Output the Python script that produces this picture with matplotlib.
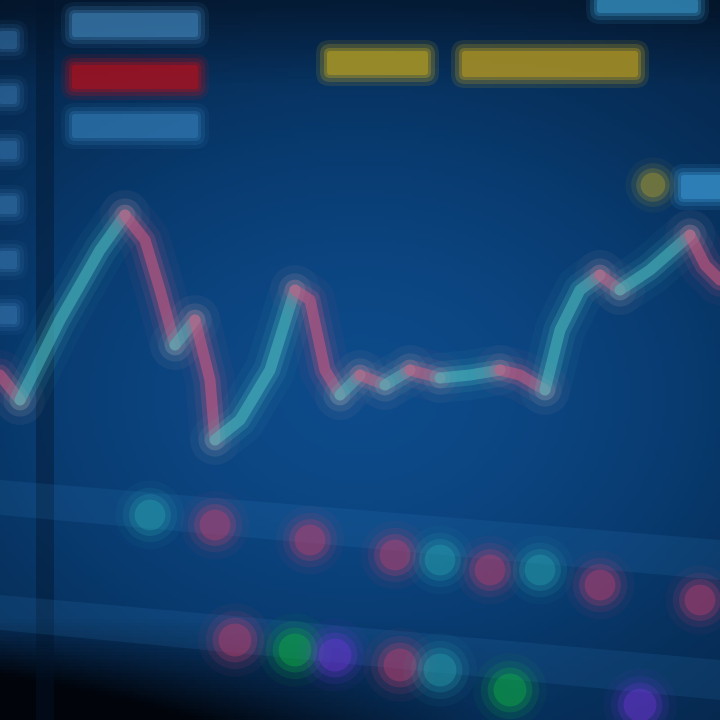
"""Blurred trading-screen style price chart"""

import numpy as np
import matplotlib.pyplot as plt
from matplotlib.patches import FancyBboxPatch
from matplotlib.colors import LinearSegmentedColormap

# Price line (day, price)
days = [0, 2, 6, 10, 12.5, 14.5, 16, 17.5, 19.5, 21, 21.5, 24, 27, 29.5, 31,
        32.5, 34, 36, 38.5, 41, 44, 47, 50, 52, 54.5, 56, 58, 60, 62, 65, 69,
        70.5, 72]
prices = [84.5, 82, 90, 97, 100.5, 98, 93, 87.5, 90, 84, 78, 80, 85, 93, 92,
          85, 82.5, 84.5, 83.5, 85, 84.2, 84.5, 85, 84.5, 83, 89, 93, 94.5, 93,
          95, 98.5, 95.5, 94]

# Volume / signal markers, first row
sig1_days = [15, 21.5, 31, 39.5, 44, 49, 54, 60, 70]
sig1_level = [70.5, 69.5, 68, 66.5, 66, 65, 65, 63.5, 62]
sig1_kind = ["teal", "red", "red", "red", "teal", "red", "teal", "red", "red"]

# Second row
sig2_days = [23.5, 29.5, 33.5, 40, 44, 51, 64]
sig2_level = [58, 57, 56.5, 55.5, 55, 53, 51.5]
sig2_kind = ["red", "green", "purple", "red", "teal", "green", "purple"]

kind_colors = {"teal": "#2aa5b0", "red": "#c8406e", "green": "#10b840",
               "purple": "#7436dc"}


def glow_line(ax, x, y, color):
    for w, a in zip((36, 24, 15, 8), (0.05, 0.1, 0.22, 0.5)):
        ax.plot(x, y, color=color, lw=w, alpha=a, solid_capstyle="round",
                solid_joinstyle="round", zorder=3)


def glow_blob(ax, x, y, color, size=900):
    for s, a in zip((size * 3.5, size * 2.2, size * 1.3, size * 0.7),
                    (0.06, 0.12, 0.22, 0.35)):
        ax.scatter(x, y, s=s, color=color, alpha=a, edgecolors="none", zorder=3)


def soft_box(ax, x0, y0, w, h, color, alpha):
    for pad, a in zip((1.4, 1.0, 0.6, 0.3), (0.12, 0.2, 0.3, 0.45)):
        ax.add_patch(FancyBboxPatch((x0, y0), w, h,
                                    boxstyle="round,pad=%.2f" % pad,
                                    color=color, alpha=a * alpha, lw=0, zorder=2))


fig = plt.figure(figsize=(7.2, 7.2), dpi=100)
ax = fig.add_axes([0, 0, 1, 1])
ax.set_xlim(0, 72)
ax.set_ylim(50, 122)
ax.axis("off")

# Background: navy, lighter blue in the middle, near black bottom-left corner
yy, xx = np.mgrid[0:1:200j, 0:1:200j]
bright = 0.35 + 0.6 * np.exp(-((xx - 0.5) ** 2 / 0.35 + (yy - 0.55) ** 2 / 0.2))
bright -= 0.85 * np.clip((yy - 0.86) * 7, 0, 1) * np.clip(1 - xx * 1.4, 0, 1)
bright -= 0.2 * np.clip((0.12 - yy) * 9, 0, 1)
bg_cmap = LinearSegmentedColormap.from_list(
    "bg", ["#01040a", "#05203f", "#083a6e", "#0e4d8e"])
ax.imshow(np.clip(bright, 0, 1), cmap=bg_cmap, extent=(0, 72, 50, 122),
          origin="upper", aspect="auto", zorder=0, vmin=0, vmax=1)

# Left dark axis strip and lighter x-axis bands
ax.axvspan(3.6, 5.4, color="#03142a", alpha=0.4, zorder=1, lw=0)
ax.fill_between([0, 72], [74, 68], [70.5, 64], color="#3386c8", alpha=0.14,
                zorder=1, lw=0)
ax.fill_between([0, 72], [62.5, 56], [59, 52], color="#3386c8", alpha=0.14,
                zorder=1, lw=0)

# Left axis tick blobs
for lvl in (118, 112.5, 107, 101.5, 96, 90.5):
    soft_box(ax, 0.2, lvl - 0.6, 1.2, 1.2, "#3d7fb8", 0.7)

# Legend-like blobs top left
soft_box(ax, 7.5, 118.6, 12, 1.8, "#4a96d0", 0.8)
soft_box(ax, 7.5, 113.4, 12, 1.8, "#b0101c", 1.2)
soft_box(ax, 7.5, 108.5, 12, 1.8, "#3a88c4", 0.8)

# Title-like blobs in yellow
soft_box(ax, 33, 114.8, 9.5, 1.8, "#b8a020", 1.2)
soft_box(ax, 46.5, 114.6, 17, 2.0, "#b89a20", 1.2)
soft_box(ax, 60, 121, 9.5, 0.8, "#3fa6dd", 0.9)
glow_blob(ax, 65.3, 103.5, "#b8a428", size=450)
soft_box(ax, 68.4, 102.4, 4.5, 1.8, "#3c9cd8", 1.0)

# Price line: split into rising / falling runs, each drawn with a glow
start = 0
for i in range(1, len(days)):
    last = i == len(days) - 1
    up = prices[i] >= prices[i - 1]
    if not last:
        nxt_up = prices[i + 1] >= prices[i]
    if last or nxt_up != up:
        col = "#4fbfc0" if up else "#d85a80"
        glow_line(ax, days[start:i + 1], prices[start:i + 1], col)
        start = i

# Signal rows
for d, lv, k in zip(sig1_days, sig1_level, sig1_kind):
    glow_blob(ax, d, lv, kind_colors[k], size=700)
for d, lv, k in zip(sig2_days, sig2_level, sig2_kind):
    glow_blob(ax, d, lv, kind_colors[k], size=800)

fig.savefig("out.png", dpi=100)
